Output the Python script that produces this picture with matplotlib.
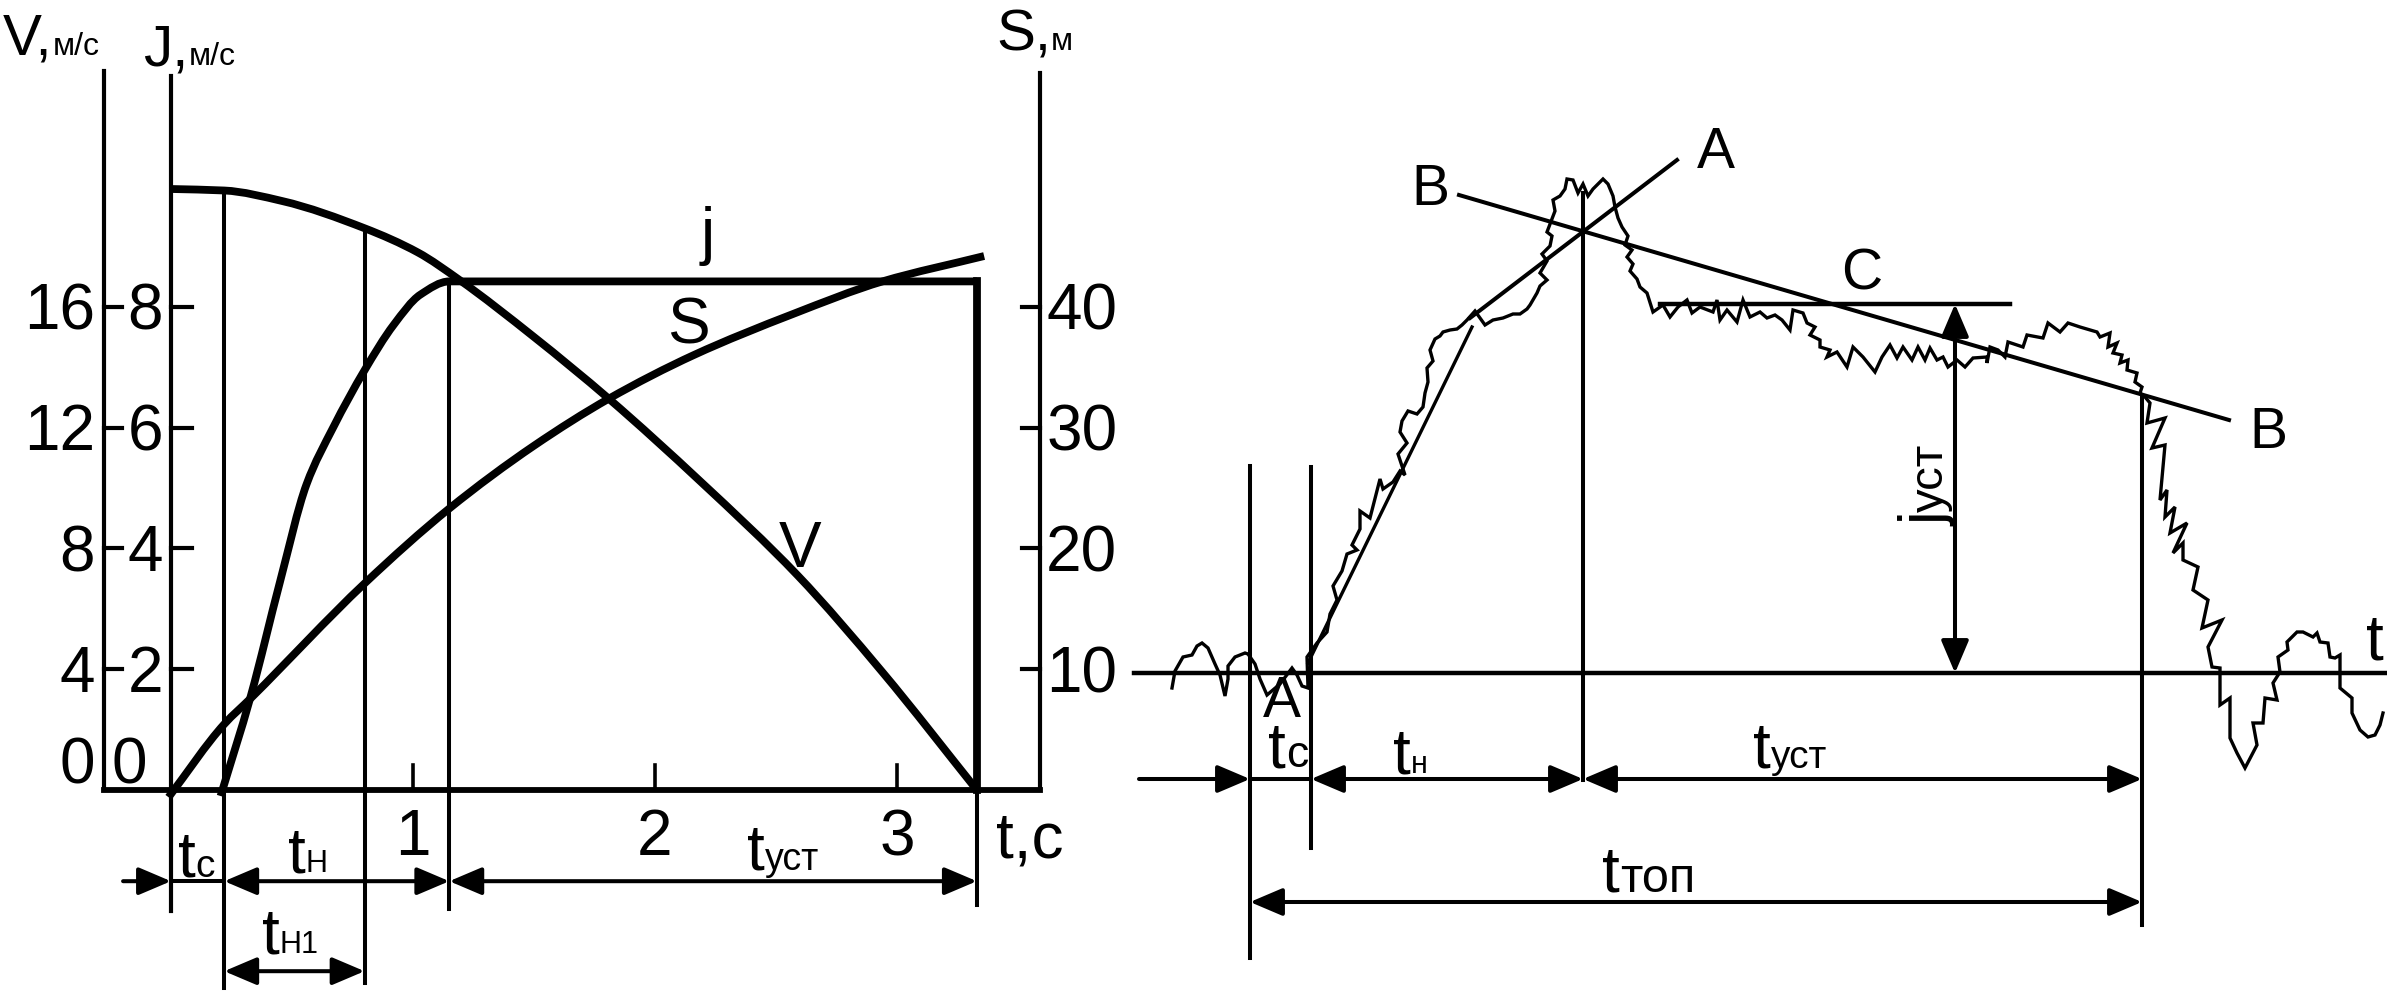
import numpy as np
import matplotlib
matplotlib.use('Agg')
import matplotlib.pyplot as plt
from matplotlib.font_manager import FontProperties
from matplotlib.path import Path
from matplotlib.patches import PathPatch

plt.rcParams['font.family'] = ['Liberation Sans', 'DejaVu Sans']

# ---- left diagram: braking process, t in s ----
t_v = [0.0, 0.22, 0.46, 0.80, 1.02, 1.19, 1.50, 1.81, 2.19, 2.59, 2.94, 3.33]
v = [19.9, 19.85, 19.5, 18.6, 17.8, 16.9, 15.0, 12.95, 10.2, 7.1, 3.9, 0.0]
t_jerk = [0.205, 0.33, 0.45, 0.56, 0.67, 0.80, 0.92, 1.03, 1.15, 3.33]
jerk = [-0.1, 1.56, 3.44, 5.06, 6.0, 6.95, 7.7, 8.2, 8.42, 8.42]
t_s = [-0.01, 0.22, 0.33, 0.80, 1.15, 1.50, 1.81, 2.16, 2.57, 2.94, 3.36]
s = [-0.6, 5.45, 7.6, 17.1, 23.3, 28.5, 32.4, 36.0, 39.4, 42.1, 44.2]
v_ticks = [0, 4, 8, 12, 16]
j_ticks = [0, 2, 4, 6, 8]
s_ticks = [10, 20, 30, 40]
t_ticks = [1, 2, 3]
t_c, t_n1, t_n, t_end = 0.22, 0.80, 1.15, 3.33

# ---- right diagram: recorded deceleration (arbitrary units) ----
signal = [(-7.8, -1.5), (-7.5, 0.2), (-6.7, 1.6), (-5.8, 1.8), (-5.3, 2.7), (-4.8, 3.0), (-4.2, 2.5),
          (-3.5, 0.9), (-3.0, -0.2), (-2.5, -2.3), (-2.2, -0.6), (-2.2, 0.7), (-1.5, 1.6), (-0.5, 2.0),
          (-0.2, 1.9), (0.5, 0.9), (1.0, -0.6), (1.7, -2.2), (3.0, -1.1), (4.2, 0.5), (4.7, -0.2),
          (5.2, -1.3), (5.8, -1.5), (5.7, 1.6), (6.7, 3.0), (7.7, 4.1), (8.0, 5.9), (8.7, 7.3),
          (8.3, 8.7), (9.2, 10.2), (9.7, 11.9), (10.7, 12.3), (10.2, 12.8), (11.0, 14.4), (11.0, 16.2),
          (12.0, 15.5), (13.0, 19.4), (13.3, 18.4), (14.3, 19.1), (15.0, 20.2), (15.5, 19.8),
          (14.8, 21.9), (15.7, 23.0), (15.0, 24.1), (15.2, 25.2), (15.8, 26.2), (16.7, 25.9),
          (17.3, 26.6), (17.5, 28.0), (17.8, 29.1), (17.7, 30.5), (18.3, 31.2), (18.0, 32.3),
          (18.5, 33.4), (19.0, 33.7), (19.3, 34.1), (20.0, 34.3), (20.7, 34.4), (21.2, 34.8),
          (21.7, 35.3), (22.5, 36.2), (23.0, 35.5), (23.5, 34.8), (24.3, 35.3), (25.3, 35.5),
          (26.3, 35.9), (27.0, 35.9), (27.7, 36.4), (28.0, 36.8), (28.7, 38.0), (29.0, 38.7),
          (29.7, 39.3), (29.0, 40.0), (29.7, 41.2), (29.2, 41.9), (30.0, 42.7), (30.2, 43.7),
          (29.7, 44.1), (30.5, 46.2), (30.3, 47.3), (31.0, 47.7), (31.5, 48.4), (31.7, 49.4),
          (32.3, 49.3), (32.8, 48.0), (33.3, 48.9), (33.8, 47.7), (34.3, 48.4), (35.3, 49.4),
          (35.8, 48.9), (36.3, 47.7), (36.5, 46.6), (36.8, 45.5), (37.2, 44.6), (37.8, 43.7),
          (37.5, 42.8), (38.2, 42.3), (37.7, 41.6), (38.3, 40.9), (38.0, 40.2), (38.7, 39.4),
          (39.0, 38.6), (39.7, 38.0), (40.3, 36.1), (41.3, 36.8), (42.0, 35.6), (42.8, 36.6),
          (43.7, 37.3), (44.2, 36.0), (45.0, 36.6), (46.3, 36.1), (46.7, 37.3), (47.0, 35.3),
          (47.7, 36.3), (48.7, 35.1), (49.3, 37.3), (50.0, 35.6), (51.0, 36.1), (51.7, 35.5),
          (52.5, 35.8), (53.2, 35.3), (54.0, 34.3), (54.3, 36.3), (55.3, 36.0), (55.7, 35.0),
          (56.5, 34.6), (56.0, 33.8), (57.0, 33.3), (57.0, 32.6), (58.0, 32.3), (57.7, 31.6),
          (58.7, 32.1), (59.7, 30.6), (60.3, 32.6), (61.3, 31.6), (62.5, 30.1), (63.2, 31.6),
          (64.0, 32.8), (64.7, 31.5), (65.3, 32.6), (66.2, 31.3), (66.8, 32.6), (67.5, 31.3),
          (68.0, 32.5), (68.7, 31.3), (69.3, 31.6), (69.8, 30.6), (70.7, 31.3), (71.5, 30.6),
          (72.3, 31.5), (73.7, 31.6), (73.7, 31.0), (74.0, 32.6), (74.8, 32.3), (75.5, 31.6),
          (75.8, 33.1), (77.3, 32.6), (77.7, 33.8), (79.3, 33.5), (79.8, 35.0), (81.0, 34.1),
          (81.8, 35.0), (83.0, 34.6), (84.7, 34.1), (85.0, 33.6), (86.0, 34.0), (85.8, 32.6),
          (86.7, 33.0), (86.3, 32.0), (87.2, 31.8), (87.0, 31.0), (87.8, 31.3), (87.7, 30.3),
          (88.7, 30.0), (88.5, 29.1), (89.2, 28.6), (89.0, 28.0), (89.5, 27.6), (90.0, 27.0),
          (89.7, 25.0), (91.5, 25.5), (90.2, 22.5), (91.5, 22.8), (91.0, 17.3), (91.7, 18.3),
          (91.5, 15.6), (92.5, 16.6), (92.0, 14.0), (93.7, 15.0), (92.3, 12.0), (93.3, 13.0),
          (93.3, 11.3), (94.8, 10.6), (94.3, 8.3), (95.8, 7.3), (95.2, 4.5), (97.2, 5.3),
          (95.8, 2.6), (96.2, 0.6), (97.0, 0.5), (97.0, -3.2), (98.0, -2.5), (98.0, -6.5),
          (98.7, -8.0), (99.5, -9.5), (100.7, -7.2), (100.3, -5.0), (101.3, -5.0), (101.5, -2.5),
          (102.7, -2.7), (102.3, -1.0), (103.0, 0.1), (102.8, 1.6), (103.8, 2.3), (103.7, 3.1),
          (104.7, 4.1), (105.3, 4.1), (106.3, 3.6), (106.7, 4.0), (107.0, 3.1), (107.8, 3.0),
          (108.0, 1.6), (108.5, 1.5), (109.0, 1.8), (109.0, -1.5), (110.2, -2.5), (110.2, -4.0),
          (111.0, -5.7), (111.8, -6.4), (112.5, -6.2), (113.0, -5.2), (113.3, -4.0)]
sig_t, sig_j = zip(*signal)
fit_t, fit_j = [5.8, 22.2], [1.0, 34.6]
line_a_t, line_a_j = [22.0, 42.7], [35.5, 51.3]
line_b_t, line_b_j = [20.9, 97.9], [47.8, 25.3]
c_t, j_ust = [41.0, 76.0], 36.9
r_start, r_c, r_n, r_end = 0.0, 6.1, 33.3, 89.2
t_ust_arrow = 70.5

fig = plt.figure(figsize=(23.87, 9.91), dpi=100)
renderer = fig.canvas.get_renderer()
K = 'black'


def smooth(ax, xs, ys, lw):
    # monotone cubic (PCHIP slopes) through the read points, drawn as Bezier path
    x = np.asarray(xs, float)
    y = np.asarray(ys, float)
    h = np.diff(x)
    d = np.diff(y) / h
    m = np.zeros_like(x)
    m[0], m[-1] = d[0], d[-1]
    for i in range(1, len(x) - 1):
        if d[i - 1] * d[i] > 0:
            w1, w2 = 2 * h[i] + h[i - 1], h[i] + 2 * h[i - 1]
            m[i] = (w1 + w2) / (w1 / d[i - 1] + w2 / d[i])
    verts, codes = [(x[0], y[0])], [Path.MOVETO]
    for i in range(len(x) - 1):
        verts += [(x[i] + h[i] / 3, y[i] + m[i] * h[i] / 3),
                  (x[i + 1] - h[i] / 3, y[i + 1] - m[i + 1] * h[i] / 3),
                  (x[i + 1], y[i + 1])]
        codes += [Path.CURVE4] * 3
    ax.add_patch(PathPatch(Path(verts, codes), fill=False, edgecolor=K, lw=lw, capstyle='butt'))


def sublabel(ax, x, y, main, sub, size, subsize, rot=0):
    ax.text(x, y, main, fontsize=size, rotation=rot, rotation_mode='anchor',
            ha='left', va='baseline', color=K)
    w = renderer.get_text_width_height_descent(
        main, FontProperties(family=plt.rcParams['font.family'], size=size), ismath=False)[0]
    w = w * 72 / fig.dpi
    a = np.deg2rad(rot)
    ax.annotate(sub, (x, y), xytext=(w * np.cos(a), w * np.sin(a)), textcoords='offset points',
                fontsize=subsize, rotation=rot, rotation_mode='anchor', ha='left', va='baseline', color=K)


def dim(ax, p0, p1, style='<|-|>', lw=2.9):
    ax.annotate('', xy=p1, xytext=p0,
                arrowprops=dict(arrowstyle=style + ',head_length=0.4,head_width=0.17',
                                mutation_scale=50, lw=lw, color=K, shrinkA=0, shrinkB=0))


# ================= left =================
lo, hi = -3.328, 13.079
axL = fig.add_axes([0, 0, 1120 / 2387, 1])
axL.set_xlim(-0.7066, 3.9215)
axL.set_ylim(lo, hi)
axL.axis('off')
axV = axL.twinx()
axV.set_ylim(2 * lo, 2 * hi)
axV.axis('off')
axS = axL.twinx()
axS.set_ylim(5 * lo, 5 * hi)
axS.axis('off')

x_vax, x_sax = -0.277, 3.591
axL.plot([x_vax, x_vax], [0, 11.9], color=K, lw=3)
axL.plot([0, 0], [-2.0, 11.82], color=K, lw=3)
axL.plot([x_sax, x_sax], [0, 11.87], color=K, lw=3)
axL.plot([x_vax, x_sax], [0, 0], color=K, lw=4.2)
for jt in j_ticks[1:]:
    axL.plot([x_vax, x_vax + 0.075], [jt, jt], color=K, lw=3)
    axL.plot([0, 0.085], [jt, jt], color=K, lw=3)
    axL.plot([x_sax - 0.075, x_sax], [jt, jt], color=K, lw=3)
for tt in t_ticks:
    axL.plot([tt, tt], [0, 0.41], color=K, lw=2.6)

# guide lines
v_half = np.interp([t_c, t_n1], t_v, v) / 2
axL.plot([t_c, t_c], [v_half[0], -3.28], color=K, lw=2.9)
axL.plot([t_n1, t_n1], [v_half[1], -3.2], color=K, lw=2.9)
axL.plot([t_n, t_n], [jerk[8], -1.97], color=K, lw=2.9)
axL.plot([t_end, t_end], [0, -1.9], color=K, lw=2.9)

smooth(axV, t_v, v, 5.6)
smooth(axS, t_s, s, 5.6)
smooth(axL, t_jerk, jerk, 5.6)
axL.plot([t_jerk[-1], t_jerk[-1]], [jerk[-1], 0], color=K, lw=5.6, solid_capstyle='projecting')

# dimension arrows
dim(axL, (-0.198, -1.51), (0, -1.51), style='-|>')
axL.plot([0, t_c], [-1.51, -1.51], color=K, lw=2.9)
dim(axL, (t_c, -1.51), (t_n, -1.51))
dim(axL, (t_n, -1.51), (t_end, -1.51))
dim(axL, (t_c, -3.0), (t_n1, -3.0))

# tick labels
for val in v_ticks:
    axV.annotate(str(val), (-0.314, val), xytext=(0, 5 if val == 0 else -16.5),
                 textcoords='offset points', ha='right', va='baseline', fontsize=46)
for val in j_ticks:
    axL.annotate(str(val), (-0.099 if val == 0 else -0.033, val),
                 xytext=(0, 5 if val == 0 else -16.5),
                 textcoords='offset points', ha='right', va='baseline', fontsize=46)
for val in s_ticks:
    axS.annotate(str(val), (3.616, val), xytext=(0, -16.5), textcoords='offset points',
                 ha='left', va='baseline', fontsize=46)
for tt in t_ticks:
    axL.text(tt, -1.08, str(tt), ha='center', va='baseline', fontsize=46)
axL.text(3.409, -1.12, 't,с', ha='left', va='baseline', fontsize=46)

sublabel(axL, -0.694, 12.17, 'V,', 'м/с', 42, 23)
sublabel(axL, -0.116, 12.0, 'J,', 'м/с', 42, 23)
sublabel(axL, 3.409, 12.25, 'S,', 'м', 42, 23)
sublabel(axL, 0.029, -1.44, 't', 'с', 46, 28)
sublabel(axL, 0.483, -1.36, 't', 'Н', 46, 22)
sublabel(axL, 0.376, -2.70, 't', 'Н1', 46, 22)
sublabel(axL, 2.380, -1.32, 't', 'уст', 46, 27)
axL.text(2.219, 8.89, 'j', ha='center', va='baseline', fontsize=46)
axL.text(2.136, 7.40, 'S', ha='center', va='baseline', fontsize=46)
axL.text(2.60, 3.69, 'V', ha='center', va='baseline', fontsize=46)

# ================= right =================
x0 = 1120
axR = fig.add_axes([x0 / 2387, 0, 1 - x0 / 2387, 1])
axR.set_xlim((x0 - 1250) / 10, (2387 - 1250) / 10)
axR.set_ylim((673 - 991) / 10, 673 / 10)
axR.axis('off')

axR.plot([-11.6, 113.7], [0, 0], color=K, lw=3.2)
axR.plot([r_start, r_start], [20.7, -28.5], color=K, lw=2.9)
axR.plot([r_c, r_c], [20.6, -17.5], color=K, lw=2.9)
axR.plot([r_n, r_n], [48.0, -10.7], color=K, lw=2.9)
axR.plot([r_end, r_end], [27.8, -25.2], color=K, lw=2.9)

axR.plot(fit_t, fit_j, color=K, lw=2.4)
axR.plot(line_a_t, line_a_j, color=K, lw=2.9)
axR.plot(line_b_t, line_b_j, color=K, lw=2.9)
axR.plot(c_t, [j_ust, j_ust], color=K, lw=3.2)
axR.plot(sig_t, sig_j, color=K, lw=2.4, solid_joinstyle='miter')

dim(axR, (t_ust_arrow, 0), (t_ust_arrow, j_ust))
dim(axR, (-11.1, -10.6), (r_start, -10.6), style='-|>')
axR.plot([r_start, r_c], [-10.6, -10.6], color=K, lw=2.9)
dim(axR, (r_c, -10.6), (r_n, -10.6))
dim(axR, (r_n, -10.6), (r_end, -10.6))
dim(axR, (r_start, -22.9), (r_end, -22.9))

for txt, (xt, yt) in zip(['A', 'B', 'B', 'C', 'A'],
                         [(46.6, 50.5), (18.0, 46.8), (101.8, 22.5), (61.2, 38.3), (3.2, -4.4)]):
    axR.text(xt, yt, txt, ha='center', va='baseline', fontsize=41)
axR.text(112.5, 1.3, 't', ha='center', va='baseline', fontsize=46)
sublabel(axR, 1.8, -9.4, 't', 'с', 46, 32)
sublabel(axR, 14.3, -10.0, 't', 'н', 46, 22)
sublabel(axR, 50.3, -9.5, 't', 'уст', 46, 28)
sublabel(axR, 35.2, -21.9, 't', 'топ', 46, 35)
sublabel(axR, 69.3, 14.7, 'j', 'уст', 44, 34, rot=90)

fig.savefig('out.png', dpi=100, facecolor='white')
